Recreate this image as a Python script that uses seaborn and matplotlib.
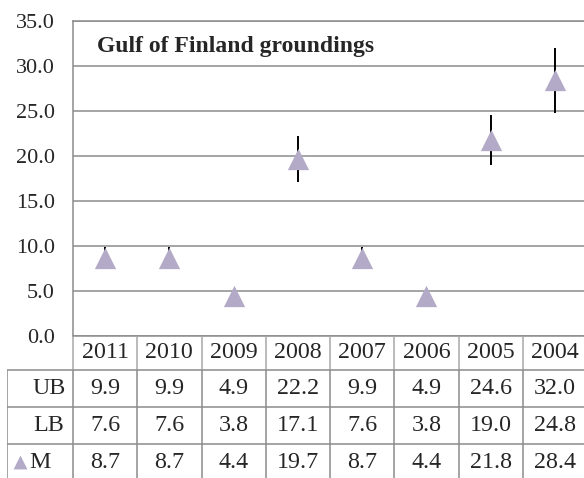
import numpy as np
import pandas as pd
import matplotlib
matplotlib.use("Agg")
import matplotlib.pyplot as plt
import seaborn as sns

# chart data
years = ["2011", "2010", "2009", "2008", "2007", "2006", "2005", "2004"]
ub = [9.9, 9.9, 4.9, 22.2, 9.9, 4.9, 24.6, 32.0]
lb = [7.6, 7.6, 3.8, 17.1, 7.6, 3.8, 19.0, 24.8]
m = [8.7, 8.7, 4.4, 19.7, 8.7, 4.4, 21.8, 28.4]
y_ticks = [0, 5, 10, 15, 20, 25, 30, 35]
row_names = ["UB", "LB", "M"]
title = "Gulf of Finland groundings"

purple = "#b3aac8"
gridc = "#8c8c8c"

sns.set_style("white")
plt.rcParams["font.family"] = ["Liberation Serif", "DejaVu Serif"]

W, H = 584, 478
fig = plt.figure(figsize=(W / 100, H / 100), dpi=100)


def px_box(left, top, right, bottom):
    # axes rectangle from pixel edges
    return [left / W, 1 - bottom / H, (right - left) / W, (bottom - top) / H]


df = pd.DataFrame({"pos": np.arange(len(years)), "year": years, "M": m, "LB": lb, "UB": ub})

ax = fig.add_axes(px_box(73, 21, 587, 336))
ax.vlines(df["pos"], df["LB"], df["UB"], color="black", lw=1.4, zorder=2)
sns.scatterplot(data=df, x="pos", y="M", marker="^", s=235, color=purple,
                linewidth=0, ax=ax, zorder=3, legend=False)
ax.set_xlim(-0.5, len(years) - 0.5)
ax.set_ylim(0, 35)
ax.set_yticks(y_ticks)
ax.set_yticklabels([f"{v:.1f}" for v in y_ticks], fontsize=16)
ax.set_xticks([])
ax.set_xlabel("")
ax.set_ylabel("")
ax.tick_params(axis="y", length=0, pad=13)
ax.grid(axis="y", color=gridc, lw=1.1)
ax.set_axisbelow(True)
for side in ["left", "top", "bottom"]:
    ax.spines[side].set_color(gridc)
    ax.spines[side].set_linewidth(1.1)
ax.spines["right"].set_visible(False)
ax.text((97 - 73) / 514, 1 - (52 - 21) / 315, title, transform=ax.transAxes,
        fontsize=17, fontweight="bold", va="baseline", ha="left")

# data table under the plot, columns share the category scale
px_unit = 64.25
x_left = -0.5 - 66 / px_unit
tax = fig.add_axes(px_box(7, 336, 587, 481))
tax.set_xlim(x_left, len(years) - 0.5)
tax.set_ylim(145, 0)
tax.axis("off")
edges = [0, 34, 71, 108, 145]
bounds = np.arange(len(years) + 1) - 0.5
tax.vlines(bounds, edges[0], edges[1], color="#a8a8a8", lw=1.1)
tax.vlines(bounds, edges[1], edges[-1], color=gridc, lw=1.1)
tax.vlines([x_left], edges[1], edges[-1], color=gridc, lw=1.1)
tax.hlines(edges[1:4], x_left, len(years) - 0.5, color=gridc, lw=1.1)

for i, yr in enumerate(years):
    tax.text(i, (edges[0] + edges[1]) / 2, yr, ha="center", va="center", fontsize=17.3)

table_rows = [ub, lb, m]
label_x = {"UB": x_left + 26 / px_unit, "LB": x_left + 26 / px_unit, "M": x_left + 22 / px_unit}
for r, (name, vals) in enumerate(zip(row_names, table_rows)):
    yc = (edges[r + 1] + edges[r + 2]) / 2
    tax.text(label_x[name], yc, name, ha="left", va="center", fontsize=17.3)
    for i, v in enumerate(vals):
        tax.text(i, yc, f"{v:.1f}", ha="center", va="center", fontsize=17.3)

tax.scatter([x_left + 13 / px_unit], [(edges[3] + edges[4]) / 2 - 1], marker="^", s=100,
            color=purple, linewidth=0, clip_on=False)

fig.savefig("out.png", dpi=100, facecolor="white")
